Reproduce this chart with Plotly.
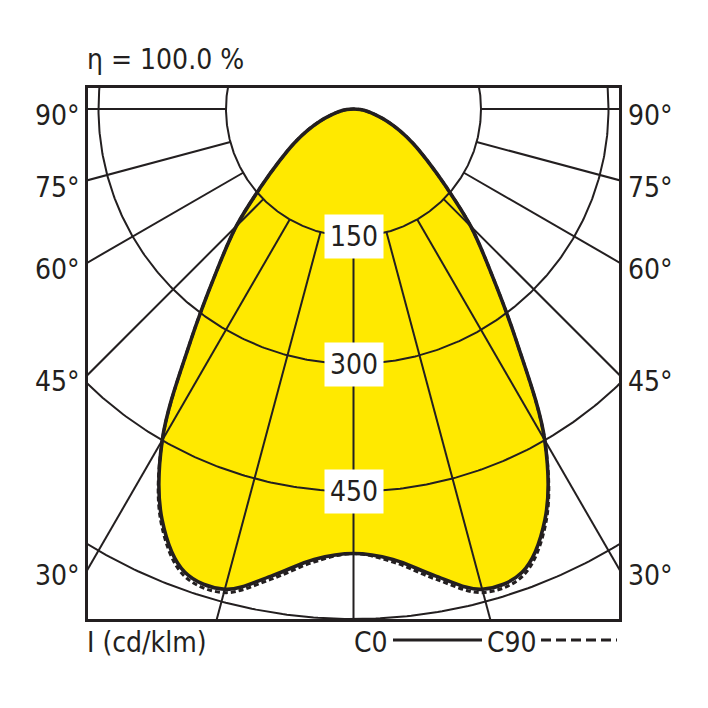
import numpy as np
import plotly.graph_objects as go

# luminous intensity, cd/klm, gamma measured from the downward vertical
gamma = [0, 5, 10, 15, 20, 25, 30, 35, 40, 45, 50, 55, 60, 65, 70, 75, 80, 85, 90]
c0 = [523, 532, 558, 585, 580, 533, 450, 335, 252, 195, 142, 106, 81, 60, 42, 27, 17, 8, 0]
c90 = [523, 535, 562, 589, 584, 536, 450, 335, 252, 195, 142, 106, 81, 60, 42, 27, 17, 8, 0]

rings = [150, 300, 450, 600]
ring_labels = ["150", "300", "450"]
spokes = [0, 15, 30, 45, 60, 75, 90]
angle_ticks = [30, 45, 60, 75, 90]
eta_text = "η = 100.0 %"
unit_text = "I (cd/klm)"

XMAX = 312.35
YTOP = 24.7
YBOT = -600.0

W = 708
OFF = 8  # page body margin
FONT = "DejaVu Sans Condensed, Liberation Sans Narrow, sans-serif"
FS = 28
INK = "#231f20"
YELLOW = "#ffe900"


def px(v):
    return (v - OFF) / W


def py(v):
    return 1 - (v - OFF) / W


def curve_xy(g, vals):
    g = np.asarray(g, float)
    v = np.asarray(vals, float)
    ga = np.concatenate([-g[::-1], g[1:]])
    va = np.concatenate([v[::-1], v[1:]])
    t = np.radians(ga)
    return va * np.sin(t), -va * np.cos(t)


fig = go.Figure()

# yellow body
x0, y0 = curve_xy(gamma, c0)
fig.add_trace(go.Scatter(x=x0, y=y0, mode="lines", line=dict(width=0, shape="spline", smoothing=1),
                         fill="toself", fillcolor=YELLOW, hoverinfo="skip"))

# rings
th = np.linspace(0, 2 * np.pi, 721)
for r in rings:
    fig.add_trace(go.Scatter(x=r * np.cos(th), y=r * np.sin(th), mode="lines",
                             line=dict(color=INK, width=2), hoverinfo="skip"))

# spokes, from the first ring outwards
sx, sy = [], []
for a in spokes:
    for s in ([1] if a == 0 else [-1, 1]):
        t = np.radians(a * s)
        sx += [150 * np.sin(t), 1500 * np.sin(t), None]
        sy += [-150 * np.cos(t), -1500 * np.cos(t), None]
fig.add_trace(go.Scatter(x=sx, y=sy, mode="lines", line=dict(color=INK, width=2), hoverinfo="skip"))

# curves
x90, y90 = curve_xy(gamma, c90)
fig.add_trace(go.Scatter(x=x90, y=y90, mode="lines", name="C90",
                         line=dict(color=INK, width=3, dash="5px,3px", shape="spline", smoothing=1)))
fig.add_trace(go.Scatter(x=x0, y=y0, mode="lines", name="C0",
                         line=dict(color=INK, width=3.6, shape="spline", smoothing=1)))

font = dict(size=FS, color=INK, family=FONT)
ann = []
for r, lab in zip(rings, ring_labels):
    ann.append(dict(x=0, y=-r, text=lab, showarrow=False, bgcolor="white", borderpad=5, font=font))
for a in angle_ticks:
    ye = -XMAX * np.cos(np.radians(a)) / np.sin(np.radians(a))
    ann.append(dict(x=-XMAX, y=ye, text=f"{a}°", showarrow=False, xanchor="right", yanchor="middle",
                    xshift=-6, yshift=-7, font=font))
    ann.append(dict(x=XMAX, y=ye, text=f"{a}°", showarrow=False, xanchor="left", yanchor="middle",
                    xshift=7, yshift=-7, font=font))

ann.append(dict(x=px(85), y=py(60), xref="paper", yref="paper", text=eta_text, showarrow=False,
                xanchor="left", yanchor="middle", font=font))
ann.append(dict(x=px(85), y=py(642), xref="paper", yref="paper", text=unit_text, showarrow=False,
                xanchor="left", yanchor="middle", font=font))
ann.append(dict(x=px(352), y=py(642), xref="paper", yref="paper", text="C0", showarrow=False,
                xanchor="left", yanchor="middle", font=font))
ann.append(dict(x=px(485), y=py(642), xref="paper", yref="paper", text="C90", showarrow=False,
                xanchor="left", yanchor="middle", font=font))

shapes = [
    dict(type="line", xref="paper", yref="paper", x0=px(393), x1=px(482),
         y0=py(640), y1=py(640), line=dict(color=INK, width=3)),
    dict(type="line", xref="paper", yref="paper", x0=px(541), x1=px(617),
         y0=py(640), y1=py(640), line=dict(color=INK, width=3, dash="10px,5px")),
]

fig.update_layout(
    width=W, height=W,
    margin=dict(l=0, r=0, t=0, b=0),
    paper_bgcolor="white", plot_bgcolor="white",
    showlegend=False,
    annotations=ann, shapes=shapes,
    xaxis=dict(domain=[px(88), px(619)], range=[-XMAX, XMAX], showgrid=False, zeroline=False,
               showticklabels=False, ticks="", showline=True, mirror=True, linecolor=INK, linewidth=2.5),
    yaxis=dict(domain=[py(619), py(88)], range=[YBOT, YTOP], showgrid=False, zeroline=False,
               showticklabels=False, ticks="", showline=True, mirror=True, linecolor=INK, linewidth=2.5),
)

fig.write_html("out.html")
